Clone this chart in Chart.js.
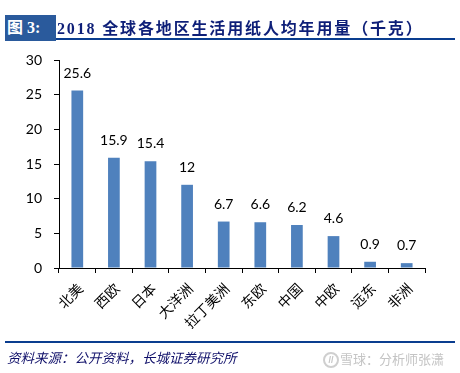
<!DOCTYPE html>
<html>
<head>
<meta charset="utf-8">
<script src="https://cdn.jsdelivr.net/npm/chart.js@4"></script>
<style>
  html, body { margin: 0; padding: 0; background: #fff; }
  #wrap { position: relative; width: 460px; height: 373px; overflow: hidden; }
  #wrap canvas { position: absolute; left: 0; top: 0; }
  .abs { position: absolute; white-space: nowrap; }
  #badge { left: 5px; top: 15px; width: 51px; height: 26px; background: #2a5a9c; color: #fff;
    font: bold 16px "Liberation Serif", "Noto Sans CJK SC"; line-height: 26px; text-indent: 2px; }
  #title { left: 57px; top: 18px; color: #0e1f78; letter-spacing: 1.85px;
    font: bold 16px "Liberation Serif", "Noto Sans CJK SC"; line-height: 22px; }
  #topline { left: 56px; top: 38px; width: 399px; height: 2px; background: #0a3d8f; }
  #botline { left: 5px; top: 341px; width: 450px; height: 2px; background: #0a3d8f; }
  #source { left: 7px; top: 347px; color: #10106a; font: italic 13.5px "Noto Sans CJK SC"; line-height: 20px; }
  #mark { left: 340px; top: 350px; color: #c4c4c4; font: 13px "Noto Sans CJK SC"; line-height: 18px; }
  #icono { left: 323px; top: 352px; width: 12px; height: 12px; border: 2px solid #cfcfcf; border-radius: 50%;
    color: #c4c4c4; font: bold 9px "Liberation Sans"; line-height: 12px; text-align: center; }
</style>
</head>
<body>
<div id="wrap">
  <canvas id="grafico" width="460" height="373"></canvas>
  <div class="abs" id="badge">图 3:</div>
  <div class="abs" id="title">2018 全球各地区生活用纸人均年用量（千克）</div>
  <div class="abs" id="topline"></div>
  <div class="abs" id="botline"></div>
  <div class="abs" id="source">资料来源：公开资料，长城证券研究所</div>
  <div class="abs" id="icono">//</div>
  <div class="abs" id="mark">雪球：分析师张潇</div>
</div>
<script>
const regiones = ["北美", "西欧", "日本", "大洋洲", "拉丁美洲", "东欧", "中国", "中欧", "远东", "非洲"];
const consumo = [25.6, 15.9, 15.4, 12, 6.7, 6.6, 6.2, 4.6, 0.9, 0.7];

// etiquetas encima de cada barra
const etiquetas = {
  id: "etiquetas",
  afterDatasetsDraw(chart) {
    const ctx = chart.ctx;
    ctx.save();
    ctx.font = '14px Lato';
    ctx.fillStyle = "#000";
    ctx.textAlign = "center";
    ctx.textBaseline = "middle";
    chart.getDatasetMeta(0).data.forEach((bar, i) => {
      ctx.fillText(String(consumo[i]), bar.x, bar.y - 17.5);
    });
    ctx.restore();
  }
};

new Chart(document.getElementById("grafico"), {
  type: "bar",
  data: {
    labels: regiones,
    datasets: [{
      data: consumo,
      backgroundColor: "#4f81bd",
      categoryPercentage: 1,
      barPercentage: 0.32
    }]
  },
  options: {
    responsive: false,
    animation: false,
    layout: { padding: { top: 60, right: 35, bottom: 0, left: 0 } },
    plugins: { legend: { display: false }, tooltip: { enabled: false } },
    scales: {
      x: {
        afterFit: s => { s.height = 105; },
        border: { color: "#000", width: 1 },
        grid: { display: true, drawOnChartArea: false, drawTicks: true, tickLength: 5, color: "#000" },
        ticks: { color: "#000", maxRotation: 45, minRotation: 45, autoSkip: false, padding: 7, labelOffset: 3,
                 font: { family: '"Noto Sans CJK SC"', size: 14 } }
      },
      y: {
        min: 0,
        max: 30,
        afterFit: s => { s.width = 59; },
        border: { color: "#000", width: 1 },
        grid: { display: true, drawOnChartArea: false, drawTicks: true, tickLength: 5, color: "#000" },
        ticks: { stepSize: 5, color: "#000", padding: 12, font: { family: 'Lato', size: 14 } }
      }
    }
  },
  plugins: [etiquetas]
});
</script>
</body>
</html>
